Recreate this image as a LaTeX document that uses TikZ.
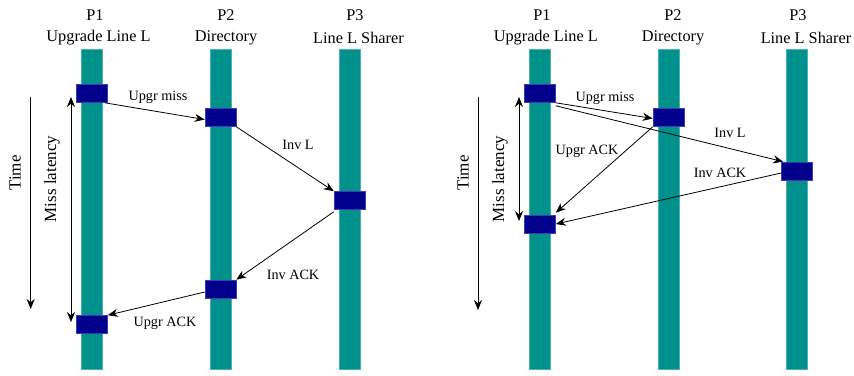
\documentclass[tikz,border=0pt]{standalone}
\usepackage{fontspec}
\setmainfont{Liberation Serif}
\usetikzlibrary{arrows.meta}
\definecolor{barteal}{RGB}{0,145,140}
\definecolor{boxnavy}{RGB}{0,0,140}
\definecolor{boxedge}{RGB}{60,60,180}
\tikzset{
  bar/.style={fill=barteal, draw=barteal!70!white, line width=0.6pt, minimum width=21pt, minimum height=320pt, inner sep=0pt, anchor=north},
  evbox/.style={fill=boxnavy, draw=boxedge, line width=0.6pt, minimum width=31pt, minimum height=18pt, inner sep=0pt},
  head/.style={font=\fontsize{16.3}{18}\selectfont, inner sep=0pt},
  msg/.style={font=\fontsize{14.2}{16}\selectfont, inner sep=0pt},
  side/.style={font=\fontsize{17}{19}\selectfont, inner sep=0pt, rotate=90},
  arr/.style={line width=0.8pt, -{Stealth[length=10pt,width=8pt]}},
  darr/.style={line width=0.8pt, {Stealth[length=10pt,width=8pt]}-{Stealth[length=10pt,width=8pt]}},
}
\begin{document}
\begin{tikzpicture}[x=1pt,y=-1pt]
\useasboundingbox (0,0) rectangle (854,375);
% ---------- left panel ----------
\node[bar] (lb1) at (92,49) {};
\node[bar] (lb2) at (220.5,49) {};
\node[bar] (lb3) at (349.5,49) {};
\node[head] (lp1) at (95,15) {P1};
\node[head] (lh1) at (98.5,38) {Upgrade Line L};
\node[head] (lp2) at (226,15) {P2};
\node[head] (lh2) at (226,38) {Directory};
\node[head] (lp3) at (355,15) {P3};
\node[head] (lh3) at (358.5,38) {Line L Sharer};
\node[evbox] (la1) at (92,93.5) {};
\node[evbox] (lb1e) at (220.5,117.5) {};
\node[evbox] (lc1) at (349.5,200.5) {};
\node[evbox] (lb2e) at (220.5,289) {};
\node[evbox] (la2) at (92,324.5) {};
\draw[arr] ([xshift=-3pt]la1.south east) -- ([yshift=-2pt]lb1e.west);
\draw[arr] (lb1e.south east) -- (lc1.north west);
\draw[arr] ([yshift=-2pt]lc1.south west) -- (lb2e.north east);
\draw[arr] ([yshift=-3pt]lb2e.west) -- (la2.north east);
\node[msg] (lm1) at (158,97) {Upgr miss};
\node[msg] (lm2) at (298,145) {Inv L};
\node[msg] (lm3) at (293,275) {Inv ACK};
\node[msg] (lm4) at (165,323) {Upgr ACK};
\coordinate (lt1) at (30.7,97);
\coordinate (lt2) at (30.7,309);
\draw[arr] (lt1) -- (lt2);
\node[side] (ltime) at (15,173) {Time};
\coordinate (ll1) at (71,97);
\coordinate (ll2) at (71,322);
\draw[darr] (ll1) -- (ll2);
\node[side] (llat) at (52,179) {Miss latency};
% ---------- right panel ----------
\node[bar] (rb1) at (540,49) {};
\node[bar] (rb2) at (668.5,49) {};
\node[bar] (rb3) at (797,49) {};
\node[head] (rp1) at (542,15) {P1};
\node[head] (rh1) at (545.8,38) {Upgrade Line L};
\node[head] (rp2) at (673,15) {P2};
\node[head] (rh2) at (673,38) {Directory};
\node[head] (rp3) at (798,15) {P3};
\node[head] (rh3) at (806,38) {Line L Sharer};
\node[evbox] (ra1) at (540,93.5) {};
\node[evbox] (rb1e) at (668.5,117.5) {};
\node[evbox] (rc1) at (797,171) {};
\node[evbox] (ra2) at (540,224) {};
\draw[arr] (ra1.south east) -- ([yshift=-1pt]rb1e.west);
\draw[arr] ([yshift=-3pt]ra1.south east) -- ([xshift=2pt]rc1.north west);
\draw[arr] (rb1e.south west) -- ([yshift=2pt]ra2.north east);
\draw[arr] ([yshift=-2pt]rc1.west) -- (ra2.east);
\node[msg] (rm1) at (605,98) {Upgr miss};
\node[msg] (rm2) at (730,133) {Inv L};
\node[msg] (rm3) at (587,151) {Upgr ACK};
\node[msg] (rm4) at (720,173) {Inv ACK};
\coordinate (rt1) at (478,97);
\coordinate (rt2) at (478,310);
\draw[arr] (rt1) -- (rt2);
\node[side] (rtime) at (463,173) {Time};
\coordinate (rl1) at (519,97);
\coordinate (rl2) at (519,221);
\draw[darr] (rl1) -- (rl2);
\node[side] (rlat) at (500,179) {Miss latency};
\end{tikzpicture}
\end{document}
